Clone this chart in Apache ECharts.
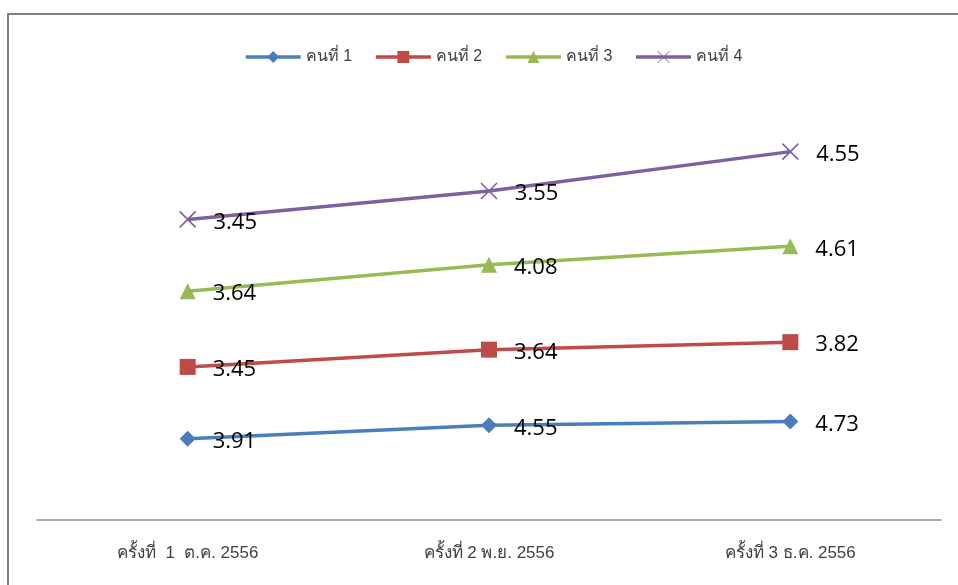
<!DOCTYPE html>
<html>
<head>
<meta charset="utf-8">
<script src="https://cdn.jsdelivr.net/npm/echarts@6/dist/echarts.min.js"></script>
<style>
  html, body { margin: 0; padding: 0; background: #fff; }
  #chart { width: 958px; height: 585px; }
</style>
</head>
<body>
<div id="chart"></div>
<script>
// Rounds of assessment (x categories)
const categories = ['ครั้งที่  1  ต.ค. 2556', 'ครั้งที่ 2 พ.ย. 2556', 'ครั้งที่ 3 ธ.ค. 2556'];

// Scores per person; lines are stacked on top of each other
const seriesNames = ['คนที่ 1', 'คนที่ 2', 'คนที่ 3', 'คนที่ 4'];
const person1 = [3.91, 4.55, 4.73];
const person2 = [3.45, 3.64, 3.82];
const person3 = [3.64, 4.08, 4.61];
const person4 = [3.45, 3.55, 4.55];

const colors = ['#4A7EBB', '#BE4B48', '#98B954', '#7D60A0'];
const symbols = ['diamond', 'rect', 'triangle', 'path://M0,0L10,10M10,0L0,10'];
const symbolSizes = [16, 16, 16, 16];
const values = [person1, person2, person3, person4];

const chart = echarts.init(document.getElementById('chart'), null, { renderer: 'canvas' });

const series = values.map((data, i) => ({
  name: seriesNames[i],
  type: 'line',
  stack: 'total',
  data: data,
  symbol: symbols[i],
  symbolSize: symbolSizes[i],
  lineStyle: { color: colors[i], width: 3.5 },
  itemStyle: i === 3
    ? { color: 'rgba(0,0,0,0)', borderColor: colors[i], borderWidth: 1.6 }
    : { color: colors[i], borderColor: colors[i], borderWidth: 0 },
  label: {
    show: true,
    position: 'right',
    distance: 17,
    offset: [0, 3],
    color: '#000',
    fontFamily: 'Open Sans',
    fontSize: 22,
    formatter: p => data[p.dataIndex].toFixed(2)
  },
  animation: false
}));

chart.setOption({
  backgroundColor: '#fff',
  graphic: [{
    type: 'rect',
    shape: { x: 8, y: 14, width: 1000, height: 600 },
    style: { fill: 'none', stroke: '#7f7f7f', lineWidth: 2 },
    silent: true
  }],
  legend: {
    top: 44,
    left: 239,
    itemWidth: 55,
    itemHeight: 15,
    itemGap: 22,
    lineStyle: { width: 3.5 },
    textStyle: { fontFamily: 'Liberation Sans', fontSize: 16, color: '#404040' },
    data: seriesNames.map((n, i) => ({ name: n, itemStyle: i === 3 ? { color: 'rgba(0,0,0,0)', borderColor: colors[i], borderWidth: 1 } : undefined }))
  },
  grid: { left: 37, right: 17, top: 104, bottom: 65, containLabel: false },
  xAxis: {
    type: 'category',
    data: categories,
    boundaryGap: true,
    axisLine: { lineStyle: { color: '#8a8a8a', width: 1.5 } },
    axisTick: { show: false },
    axisLabel: {
      margin: 25,
      fontFamily: 'Liberation Sans',
      fontSize: 17,
      color: '#404040'
    }
  },
  yAxis: {
    type: 'value',
    min: 0,
    max: 20,
    interval: 5,
    show: false,
    splitLine: { show: false }
  },
  series: series
});
</script>
</body>
</html>
